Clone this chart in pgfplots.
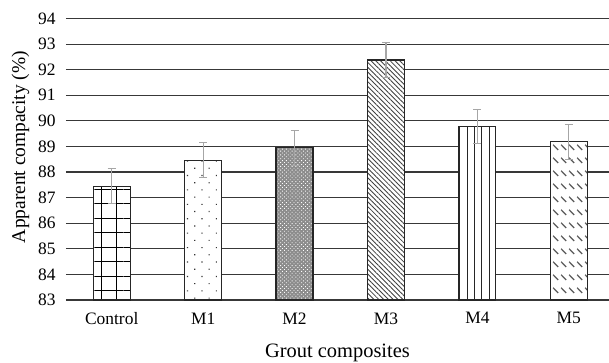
\documentclass[border=0pt]{standalone}
\usepackage{pgfplots}
\pgfplotsset{compat=1.18}
\usepackage{pgfplotstable}
\usepackage{fontspec}
\setmainfont{Liberation Serif}
\usetikzlibrary{patterns,patterns.meta}
\pgfdeclarepattern{
  name=dashdiag,
  type=uncolored,
  bottom left={\pgfpoint{0bp}{0bp}},
  top right={\pgfpoint{8bp}{13.3bp}},
  tile size={\pgfpoint{8bp}{13.3bp}},
  code={
    \pgfsetlinewidth{1.3bp}
    \pgfpathmoveto{\pgfpoint{1.2bp}{9.8bp}}
    \pgfpathlineto{\pgfpoint{6.8bp}{4.2bp}}
    \pgfusepath{stroke}
  }
}
\pgfplotstableread{
x   y      err
0   87.45  0.68
1   88.46  0.69
2   88.95  0.69
3   92.38  0.68
4   89.77  0.67
5   89.18  0.69
}\bars
\begin{document}
\begin{tikzpicture}
\begin{axis}[
  name=main,
  scale only axis,
  width=543bp, height=281.5bp,
  xmin=-0.5, xmax=5.44,
  ymin=83, ymax=94,
  ytick={83,84,...,94},
  xtick={0,1,2,3,4,5},
  xticklabels={Control,M1,M2,M3,M4,M5},
  axis line style={draw=none},
  major tick length=0pt,
  tick label style={font=\fontsize{17.5}{20}\selectfont},
  /pgf/number format/assume math mode=true,
  yticklabel style={xshift=-7bp},
  xticklabel style={yshift=-9bp},
  ybar, bar width=37bp, bar shift=0pt,
  every axis plot/.append style={line width=1.1bp},
  error bars/error bar style={gray!70, line width=1.1bp},
  error bars/error mark options={rotate=90, gray!70, mark size=4bp, line width=1.1bp},
  xlabel={Grout composites},
  ylabel={Apparent compacity (\%)},
  xlabel style={font=\fontsize{20.5}{24}\selectfont, at={(axis description cs:0.5,-0.206)}, anchor=base},
  ylabel style={font=\fontsize{19.5}{22}\selectfont, at={(axis description cs:-0.0755,0.5435)}, anchor=base, rotate=0},
]
% horizontal grid, kept out of the bar areas
\begin{scope}[even odd rule]
\clip (axis cs:-0.5,82) rectangle (axis cs:5.44,95)
  (axis cs:-0.2023,83) rectangle (axis cs:0.2023,87.45)
  (axis cs:0.7977,83) rectangle (axis cs:1.2023,88.46)
  (axis cs:1.7977,83) rectangle (axis cs:2.2023,88.95)
  (axis cs:2.7977,83) rectangle (axis cs:3.2023,92.38)
  (axis cs:3.7977,83) rectangle (axis cs:4.2023,89.77)
  (axis cs:4.7977,83) rectangle (axis cs:5.2023,89.18);
\pgfplotsinvokeforeach{83,...,94}{\draw[black!78, line width=1.1bp] (axis cs:-0.5,#1) -- (axis cs:5.44,#1);}
\end{scope}
% white underlay of every bar
\addplot[fill=white, draw=none] table[x=x, y=y] {\bars};
\addplot[fill=black!45, draw=none] coordinates {(2,88.95)};
% patterned bars with error bars
\addplot[draw=black!85, pattern={Hatch[angle=0,distance=14.5bp,line width=0.9bp]}, pattern color=black,
  error bars/.cd, y dir=both, y explicit]
  coordinates {(0,87.45) +- (0,0.68)};
\addplot[draw=black!85, pattern={Dots[angle=45,distance=10.2bp,radius=0.8bp]}, pattern color=black!80,
  error bars/.cd, y dir=both, y explicit]
  coordinates {(1,88.46) +- (0,0.69)};
\addplot[draw=black!85, pattern={Dots[angle=45,distance=2.7bp,radius=0.6bp]}, pattern color=white,
  error bars/.cd, y dir=both, y explicit]
  coordinates {(2,88.95) +- (0,0.69)};
\addplot[draw=black!85, pattern={Lines[angle=-45,distance=3.4bp,line width=0.85bp]}, pattern color=black!75,
  error bars/.cd, y dir=both, y explicit]
  coordinates {(3,92.38) +- (0,0.68)};
\addplot[draw=black!85, pattern={Lines[angle=90,distance=7.3bp,line width=1bp]}, pattern color=black!85,
  error bars/.cd, y dir=both, y explicit]
  coordinates {(4,89.77) +- (0,0.67)};
\addplot[draw=black!85, pattern=dashdiag, pattern color=black!65,
  error bars/.cd, y dir=both, y explicit]
  coordinates {(5,89.18) +- (0,0.69)};
\end{axis}
\pgfresetboundingbox
\path (main.south west) ++(-66bp,-63bp) coordinate (bl);
\path (main.north east) ++(0bp,18.5bp) coordinate (tr);
\path[use as bounding box] (bl) rectangle (tr);
\end{tikzpicture}
\end{document}
